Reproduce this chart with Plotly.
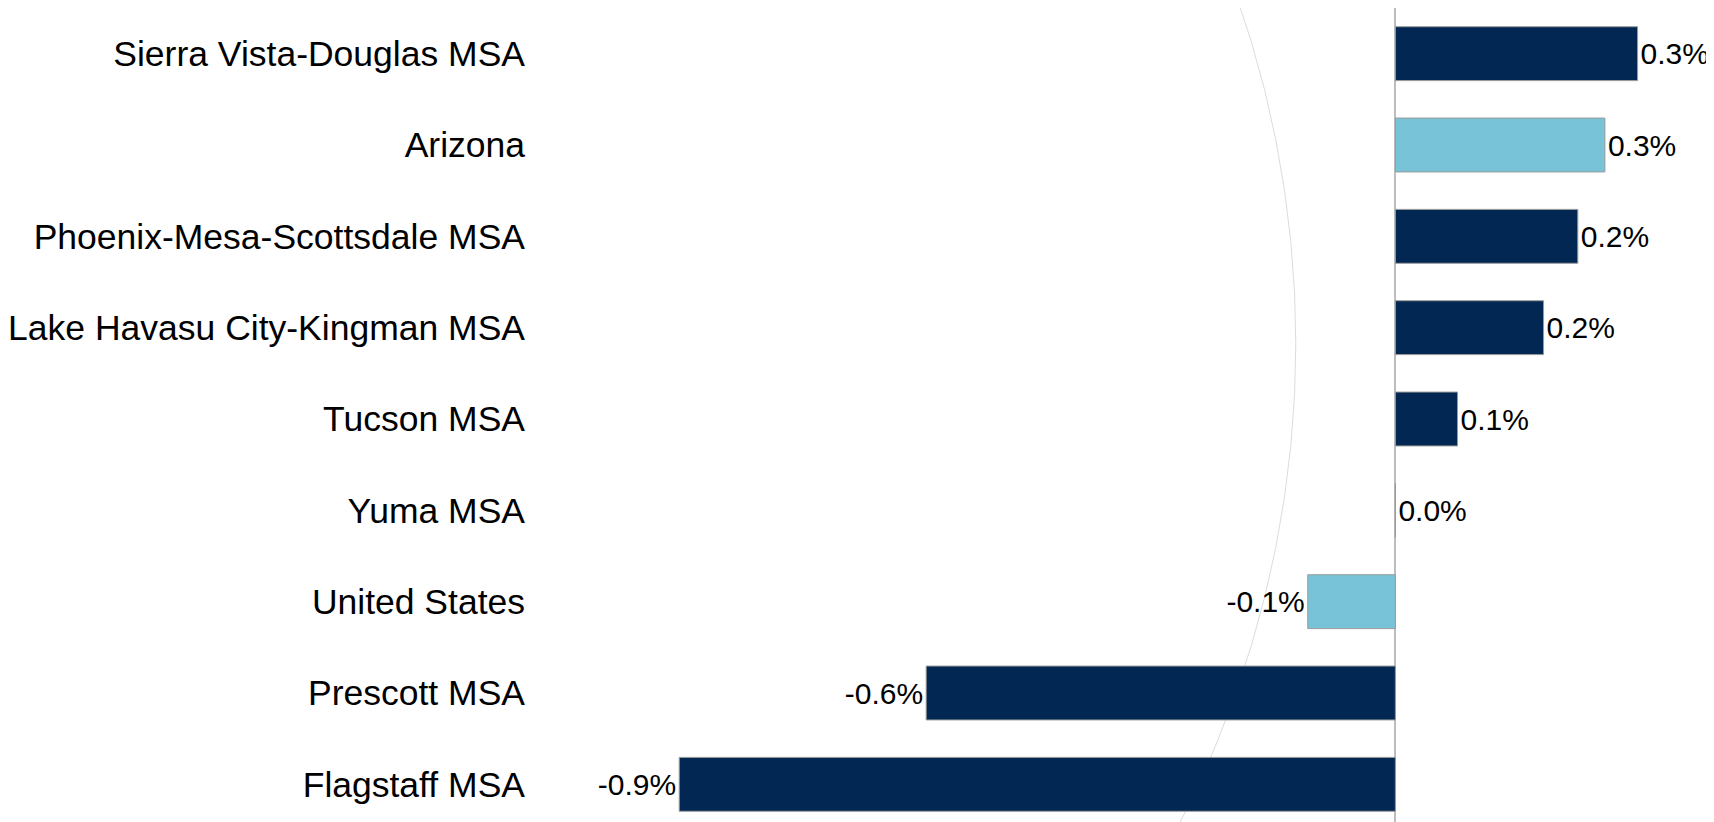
import plotly.graph_objects as go

categories = ["Sierra Vista-Douglas MSA", "Arizona", "Phoenix-Mesa-Scottsdale MSA",
              "Lake Havasu City-Kingman MSA", "Tucson MSA", "Yuma MSA",
              "United States", "Prescott MSA", "Flagstaff MSA"]
values = [0.304, 0.263, 0.229, 0.186, 0.078, 0.0, -0.11, -0.589, -0.899]
is_aggregate = [False, True, False, False, False, False, True, False, False]

NAVY = "#012752"
LIGHT = "#78C3D7"
colors = [LIGHT if a else NAVY for a in is_aggregate]

fig = go.Figure()
fig.add_trace(go.Bar(
    y=categories, x=values, orientation="h",
    marker=dict(color=colors, line=dict(color="#9a9a9a", width=1)),
    text=[f"{v:.1f}%" for v in values],
    textposition="outside",
    constraintext="none",
    textfont=dict(family="Liberation Sans, Arial", size=30, color="#000000"),
    cliponaxis=False,
    hoverinfo="skip",
))

# faint decorative arc present in the reference
fig.add_shape(type="circle", xref="x", yref="y",
              x0=-2.715, x1=-0.125, y0=-8.21, y1=14.56,
              line=dict(color="#dcdcdc", width=1), layer="below")

fig.update_layout(
    width=1714, height=822,
    margin=dict(l=532, r=0, t=0, b=0),
    paper_bgcolor="white", plot_bgcolor="white",
    bargap=0.41,
    showlegend=False,
    font=dict(family="Liberation Sans, Arial", color="#000000"),
)
fig.update_xaxes(range=[-1.0675, 0.41], autorange=False, showgrid=False, showticklabels=False,
                 zeroline=True, zerolinecolor="#BDBDBD", zerolinewidth=2,
                 fixedrange=True)
fig.update_yaxes(range=[8.5, -0.5], autorange=False, showgrid=False, ticks="",
                 tickfont=dict(family="Liberation Sans, Arial", size=35.5, color="#000000"),
                 ticklabelstandoff=19, fixedrange=True)

fig.write_html("out.html")
